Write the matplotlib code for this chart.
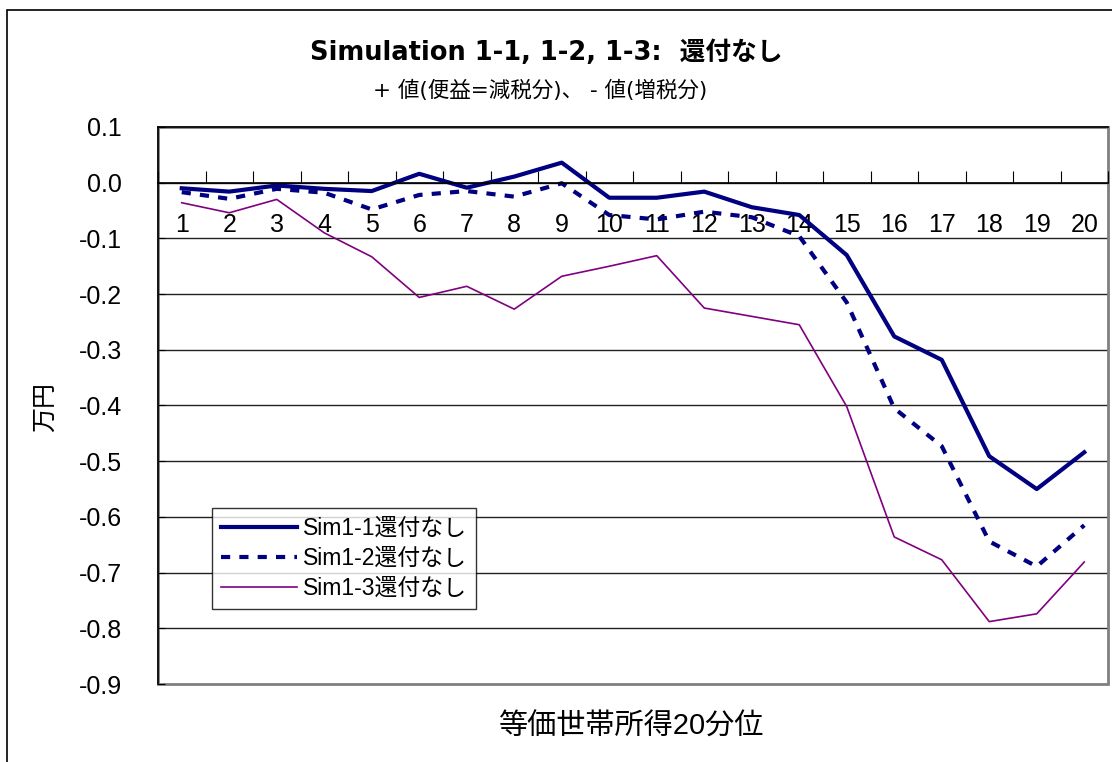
import matplotlib
matplotlib.use("Agg")
import matplotlib.pyplot as plt
from matplotlib.patches import Rectangle

plt.rcParams['font.family'] = ['Liberation Sans', 'Noto Sans CJK JP']
plt.rcParams['axes.unicode_minus'] = False

# 等価世帯所得20分位
bunni = list(range(1, 21))

sim1_1 = [-0.010, -0.016, -0.005, -0.011, -0.015, 0.016, -0.009, 0.011, 0.036, -0.027,
          -0.027, -0.016, -0.044, -0.058, -0.130, -0.276, -0.318, -0.491, -0.550, -0.484]
sim1_2 = [-0.017, -0.029, -0.011, -0.018, -0.048, -0.022, -0.015, -0.025, -0.001, -0.058,
          -0.066, -0.052, -0.062, -0.096, -0.215, -0.405, -0.473, -0.644, -0.689, -0.615]
sim1_3 = [-0.036, -0.054, -0.030, -0.090, -0.133, -0.206, -0.186, -0.227, -0.168, -0.150,
          -0.131, -0.225, -0.240, -0.255, -0.402, -0.636, -0.677, -0.788, -0.774, -0.681]

noms = ["Sim1-1還付なし", "Sim1-2還付なし", "Sim1-3還付なし"]
yticks = [0.1, 0.0, -0.1, -0.2, -0.3, -0.4, -0.5, -0.6, -0.7, -0.8, -0.9]

W, H = 1112, 762
fig = plt.figure(figsize=(W / 100, H / 100), dpi=100)
ax = fig.add_axes([158 / W, 1 - 684 / H, 950 / W, 557 / H])

# cadre extérieur
fig.patches.append(Rectangle((7 / W, -0.1), 2, (H - 10) / H + 0.1, transform=fig.transFigure,
                             fill=False, edgecolor='black', lw=1.2))

ax.plot(bunni, sim1_1, color='#000080', lw=3.0, label=noms[0])
ax.plot(bunni, sim1_2, color='#000080', lw=3.0, linestyle=(0, (2.2, 2.2)), label=noms[1])
ax.plot(bunni, sim1_3, color='#800080', lw=1.2, label=noms[2])

ax.set_xlim(0.5, 20.5)
ax.set_ylim(-0.9, 0.1)

# grille horizontale
for v in yticks[1:-1]:
    ax.axhline(v, color='#222222', lw=1.0, zorder=0)

ax.set_yticks(yticks)
ax.set_yticklabels([f"{v:.1f}" for v in yticks])
ax.tick_params(axis='y', direction='in', length=5, labelsize=18, pad=26)

# axe des x à 0
ax.spines['bottom'].set_position(('data', 0))
ax.spines['bottom'].set_color('black')
ax.spines['bottom'].set_linewidth(1.2)
ax.set_xticks([k + 0.5 for k in range(0, 21)])
ax.set_xticklabels([])
ax.set_xticks(bunni, minor=True)
ax.set_xticklabels([str(b) for b in bunni], minor=True)
ax.tick_params(axis='x', which='major', direction='in', length=9, color='black')
ax.tick_params(axis='x', which='minor', length=0, labelsize=18, pad=22)

ax.spines['right'].set_visible(False)
ax.spines['top'].set_linewidth(1.2)
ax.spines['left'].set_linewidth(1.2)
ax.add_patch(Rectangle((0, 0), 1, 1, transform=ax.transAxes, fill=False,
                       edgecolor='#808080', lw=2, zorder=0.5, clip_on=False))

fig.text(546 / W, 1 - 53 / H, "Simulation 1-1, 1-2, 1-3:  還付なし", ha='center', va='center',
         fontsize=18.5, fontweight='bold', family=['DejaVu Sans', 'Noto Sans CJK JP'])
fig.text(540 / W, 1 - 90 / H, "+ 値(便益=減税分)、 - 値(増税分)", ha='center', va='center',
         fontsize=15.5, family=['DejaVu Sans', 'Noto Sans CJK JP'])
fig.text(45 / W, 1 - 407 / H, "万円", rotation=90, ha='center', va='center', fontsize=18)
fig.text(631 / W, 1 - 727 / H, "等価世帯所得20分位", ha='center', va='center', fontsize=21)

leg = ax.legend(loc='upper left', bbox_to_anchor=(54 / 950, (684 - 508) / 557), borderaxespad=0,
                fontsize=16.5, handlelength=3.3, handletextpad=0.25, labelspacing=0.3,
                fancybox=False, frameon=True, borderpad=0.4)
leg.get_frame().set_edgecolor('black')
leg.get_frame().set_linewidth(1.0)

fig.savefig("out.png", dpi=100)
